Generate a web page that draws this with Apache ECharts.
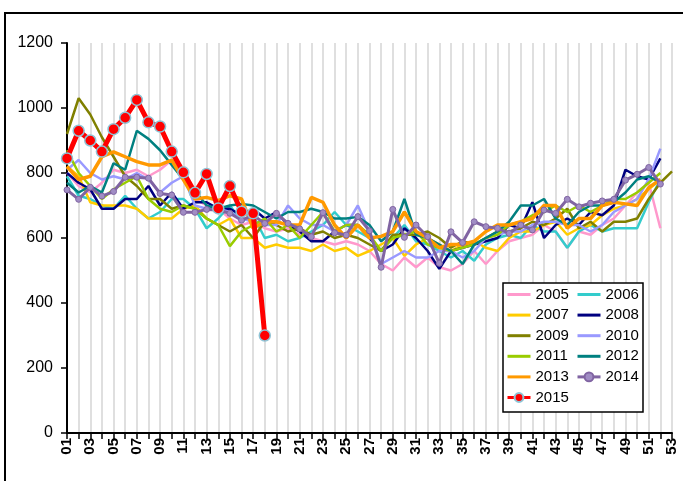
<!DOCTYPE html>
<html><head><meta charset="utf-8">
<script src="https://cdn.jsdelivr.net/npm/echarts@6/dist/echarts.min.js"></script>
<style>html,body{margin:0;padding:0;background:#fff}#c{width:683px;height:481px}</style>
</head><body><div id="c"></div>
<script>
var weeks = [];
for (var i = 1; i <= 53; i++) weeks.push(i < 10 ? '0' + i : '' + i);
var yTicks = [0, 200, 400, 600, 800, 1000, 1200];

var s2005 = [800,760,740,770,810,800,810,790,810,840, 790,720,700,690,660,640,650,630,620,630, 610,600,590,580,590,580,560,520,500,540, 510,540,510,500,520,560,520,560,590,600, 610,640,620,570,620,610,640,660,700,740,770,630];
var s2006 = [790,730,720,700,690,730,690,660,680,720, 720,690,630,660,700,650,670,600,610,590, 600,620,640,680,640,620,600,560,600,640, 590,580,560,540,560,530,580,600,610,600, 640,620,620,570,620,640,620,630,630,630,710,780];
var s2007 = [820,790,710,700,700,700,690,660,660,660, 690,700,660,640,660,600,600,570,580,570, 570,560,580,560,570,545,560,580,600,545, 580,600,580,560,580,590,570,560,600,620, 620,640,650,610,630,640,670,690,700,720,750,780];
var s2008 = [800,770,750,690,690,720,720,760,700,740, 690,710,710,690,690,670,690,660,680,640, 620,590,590,620,640,640,600,560,580,630, 600,560,505,560,570,580,590,600,640,630, 710,600,640,660,640,680,670,700,810,790,780,845];
var s2009 = [920,1030,980,910,850,790,760,720,720,690, 700,690,660,640,620,640,600,650,640,620, 630,610,620,600,610,600,580,560,610,610, 610,620,600,570,590,580,600,620,620,630, 650,640,660,690,630,650,620,650,650,660,720,770,805];
var s2010 = [810,840,800,780,790,780,800,780,740,770, 790,700,690,690,680,660,650,640,640,700, 660,640,640,620,640,700,620,520,540,560, 540,540,560,560,540,560,600,610,620,620, 640,650,650,640,640,620,640,680,700,720,780,875];
var s2011 = [870,800,760,720,750,770,790,720,690,680, 700,690,660,640,575,620,640,660,620,640, 600,640,680,620,640,640,610,560,600,610, 620,580,570,560,570,580,600,610,640,650, 670,680,700,680,700,680,700,720,720,740,770,800];
var s2012 = [770,740,760,740,830,810,930,905,870,825, 780,745,700,690,700,705,700,680,660,680, 680,690,680,660,660,665,640,590,620,720, 610,600,580,560,520,580,600,620,650,700, 700,720,660,640,680,700,700,710,740,780,790,770];
var s2013 = [820,780,790,850,865,850,835,825,825,840, 780,720,725,715,730,720,630,650,650,640, 640,725,710,640,600,640,600,605,620,680, 620,600,570,580,580,590,620,640,640,650, 660,700,700,630,660,660,700,710,705,700,755,780];
var s2014 = [748,719,756,729,743,787,787,784,737,732, 679,679,688,686,676,655,670,645,676,645, 628,604,678,616,609,666,622,510,688,602, 640,604,522,619,586,650,635,630,614,640, 625,686,676,719,696,707,714,719,778,796,817,766];
var s2015 = [845,930,900,866,935,970,1025,956,943,866, 802,739,797,691,760,681,676,300];

var names = ['2005','2006','2007','2008','2009','2010','2011','2012','2013','2014','2015'];
var values = [s2005,s2006,s2007,s2008,s2009,s2010,s2011,s2012,s2013,s2014,s2015];
var colors = ['#FF99CC','#33CCCC','#FFCC00','#000080','#808000','#9999FF','#99CC00','#008080','#FF9900','#8064A2','#FF0000'];
var marked = ['2014', '2015'];

var series = names.map(function (n, i) {
  var s = {
    name: n, type: 'line', data: values[i], z: 2 + i * 0.01,
    symbol: 'none', smooth: false,
    lineStyle: { color: colors[i], width: 2.5 },
    itemStyle: { color: colors[i] },
    emphasis: { disabled: true }
  };
  if (n === '2013') s.lineStyle.width = 3.5;
  if (n === '2014') {
    s.symbol = 'circle'; s.symbolSize = 6; s.showSymbol = true; s.showAllSymbol = true;
    s.lineStyle.width = 3;
    s.itemStyle = { color: '#A08CC4', borderColor: '#8064A2', borderWidth: 1 };
  }
  if (n === '2015') {
    s.symbol = 'circle'; s.symbolSize = 11; s.showSymbol = true; s.showAllSymbol = true;
    s.lineStyle.width = 5;
    s.itemStyle = { color: '#FF0000', borderColor: '#8FC4D6', borderWidth: 1.5 };
  }
  return s;
});

function legendItems(list) {
  return list.map(function (n) {
    return marked.indexOf(n) >= 0 ? { name: n } : { name: n, itemStyle: { opacity: 0 } };
  });
}

var legendText = { color: '#000', fontSize: 15, fontFamily: 'Liberation Sans' };
var legendCommon = { orient: 'vertical', top: 287, itemWidth: 23, itemHeight: 11, itemGap: 5.6,
  textStyle: legendText, z: 10, padding: 0, lineStyle: { width: 3 } };
var chart = echarts.init(document.getElementById('c'));
chart.setOption({
  animation: false,
  backgroundColor: '#fff',
  color: colors,
  grid: { left: 67, right: 11, top: 43, bottom: 48 },
  xAxis: {
    type: 'category', data: weeks, boundaryGap: false,
    axisLine: { lineStyle: { color: '#000', width: 2 } },
    axisTick: { show: true, interval: 0, length: 6, lineStyle: { color: '#000', width: 1.5 } },
    axisLabel: { interval: 1, rotate: 90, color: '#000', fontSize: 15, fontWeight: 'bold', fontFamily: 'Liberation Sans', margin: 5 },
    splitLine: { show: true, interval: 0, lineStyle: { color: '#D4D4D4', width: 1.5 } }
  },
  yAxis: {
    type: 'value', min: 0, max: 1200, interval: 200,
    axisLine: { show: true, lineStyle: { color: '#000', width: 2 } },
    axisTick: { show: true, length: 6, lineStyle: { color: '#000', width: 1.5 } },
    axisLabel: { color: '#000', fontSize: 16, fontFamily: 'Liberation Sans', margin: 14,
      formatter: function (v) { return yTicks.indexOf(v) >= 0 ? String(v) : ''; } },
    splitLine: { show: false }
  },
  legend: [
    Object.assign({ data: legendItems(['2005','2007','2009','2011','2013','2015']), left: 506 }, legendCommon),
    Object.assign({ data: legendItems(['2006','2008','2010','2012','2014']), left: 576 }, legendCommon)
  ],
  graphic: [
    { type: 'rect', z: 5, shape: { x: 503, y: 283, width: 140, height: 129 },
      style: { fill: '#fff', stroke: '#000', lineWidth: 1.5 } },
    { type: 'rect', z: 5, shape: { x: 5, y: 13, width: 720, height: 520 },
      style: { fill: 'none', stroke: '#000', lineWidth: 2 } }
  ],
  series: series
});
</script></body></html>
